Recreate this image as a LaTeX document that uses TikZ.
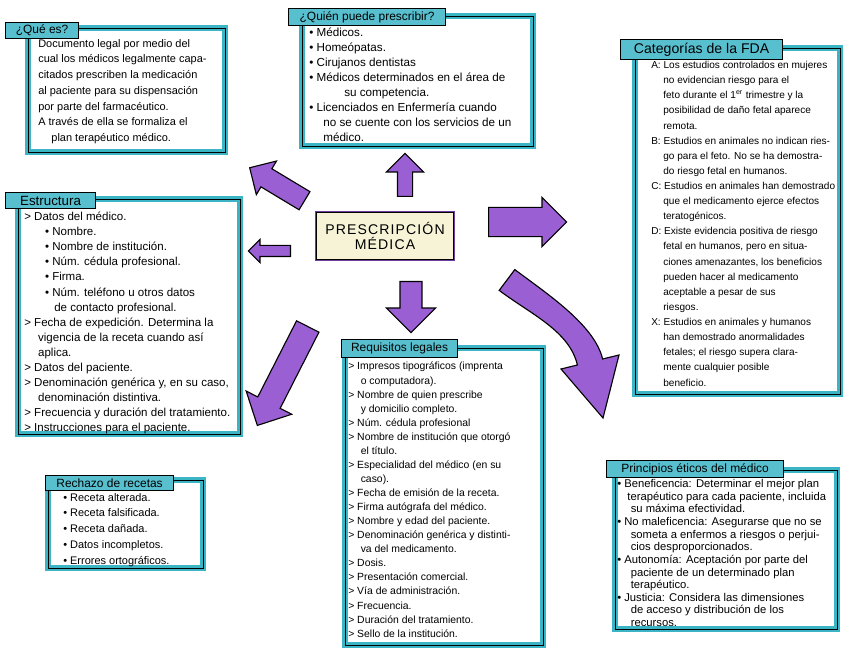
\documentclass[tikz,border=0pt]{standalone}
\usepackage{fontspec}
\setmainfont{Liberation Sans}
\usetikzlibrary{positioning, fit, shapes.arrows}

\definecolor{turquesa}{HTML}{3BB4C6}
\definecolor{violeta}{HTML}{9A5FD2}
\definecolor{violetaosc}{HTML}{6E3FA0}
\definecolor{crema}{HTML}{F6F3D6}

\newcommand{\sangria}{\hspace*{1.2em}}

\begin{document}
\begin{tikzpicture}[
    x=0.025cm, y=-0.025cm,
    marco/.style={
        rectangle,
        draw=black,
        line width=0.7pt,
        inner sep=0pt,
        preaction={draw=turquesa, line width=1.3mm}
    },
    titulo/.style={
        rectangle,
        draw=black,
        fill=turquesa!85,
        line width=0.8pt,
        inner sep=0pt,
        anchor=north west,
        font=\fontsize{8.5}{9}\selectfont
    },
    texto/.style={
        align=left,
        inner sep=0pt,
        anchor=north west
    },
    central/.style={
        rectangle,
        draw=black,
        fill=crema,
        line width=0.7pt,
        preaction={draw=violetaosc, line width=1.1mm},
        minimum width=34mm,
        minimum height=11.5mm,
        align=center,
        font=\fontsize{10}{11}\selectfont\addfontfeature{LetterSpace=8}
    },
    flecha/.style={
        single arrow,
        draw=black,
        fill=violeta,
        line width=0.8pt,
        inner xsep=0pt,
        text height=0pt, text depth=0pt,
        anchor=tail
    }
]
\useasboundingbox (0,0) rectangle (848,655);

\node[marco, fit={(28,28) (225,152)}] (quees) {};
\node[marco, fit={(302,16) (533,146)}] (quien) {};
\node[marco, fit={(635,48) (840,394)}] (fda) {};
\node[marco, fit={(18,199) (240,434)}] (estruc) {};
\node[marco, fit={(345,348) (543,645)}] (requis) {};
\node[marco, fit={(48,480) (203,568)}] (rechazo) {};
\node[marco, fit={(615,470) (837,629)}] (etica) {};

\node[titulo, minimum width=18.25mm, minimum height=4mm] (quees-tit) at (5,22) {¿Qué es?};
\node[titulo, minimum width=39.25mm, minimum height=4.25mm] (quien-tit) at (288,8) {¿Quién puede prescribir?};
\node[titulo, minimum width=40.5mm, minimum height=5mm, font=\fontsize{10}{11}\selectfont] (fda-tit) at (620,39) {Categorías de la FDA};
\node[titulo, minimum width=22.5mm, minimum height=4mm, font=\fontsize{9.5}{10}\selectfont] (estruc-tit) at (5,192) {Estructura};
\node[titulo, minimum width=29mm, minimum height=4.5mm] (requis-tit) at (341,339) {Requisitos legales};
\node[titulo, minimum width=32mm, minimum height=3.75mm] (rechazo-tit) at (45,475) {Rechazo de recetas};
\node[titulo, minimum width=44.25mm, minimum height=4.25mm] (etica-tit) at (606,460) {Principios éticos del médico};

\node[texto, font=\fontsize{7.8}{11.2}\selectfont] (quees-txt) at (38,39) {Documento legal por medio del\\
cual los médicos legalmente capa-\\
citados prescriben la medicación\\
al paciente para su dispensación\\
por parte del farmacéutico.\\
A través de ella se formaliza el\\
\sangria plan terapéutico médico.};

\node[texto, font=\fontsize{8.3}{10.6}\selectfont] (quien-txt) at (309,28) {• Médicos.\\
• Homeópatas.\\
• Cirujanos dentistas\\
• Médicos determinados en el área de\\
\hspace*{3em}su competencia.\\
• Licenciados en Enfermería cuando\\
\sangria no se cuente con los servicios de un\\
\sangria médico.};

\node[texto, font=\fontsize{7.15}{10.75}\selectfont] (fda-txt) at (651,61) {A: Los estudios controlados en mujeres\\
\sangria no evidencian riesgo para el\\
\sangria feto durante el 1\textsuperscript{er} trimestre y la\\
\sangria posibilidad de daño fetal aparece\\
\sangria remota.\\
B: Estudios en animales no indican ries-\\
\sangria go para el feto. No se ha demostra-\\
\sangria do riesgo fetal en humanos.\\
C: Estudios en animales han demostrado\\
\sangria que el medicamento ejerce efectos\\
\sangria teratogénicos.\\
D: Existe evidencia positiva de riesgo\\
\sangria fetal en humanos, pero en situa-\\
\sangria ciones amenazantes, los beneficios\\
\sangria pueden hacer al medicamento\\
\sangria aceptable a pesar de sus\\
\sangria riesgos.\\
X: Estudios en animales y humanos\\
\sangria han demostrado anormalidades\\
\sangria fetales; el riesgo supera clara-\\
\sangria mente cualquier posible\\
\sangria beneficio.};

\node[texto, font=\fontsize{8.2}{10.7}\selectfont] (estruc-txt) at (24,212) {> Datos del médico.\\
\hspace*{1.8em}• Nombre.\\
\hspace*{1.8em}• Nombre de institución.\\
\hspace*{1.8em}• Núm. cédula profesional.\\
\hspace*{1.8em}• Firma.\\
\hspace*{1.8em}• Núm. teléfono u otros datos\\
\hspace*{2.6em}de contacto profesional.\\
> Fecha de expedición. Determina la\\
\sangria vigencia de la receta cuando así\\
\sangria aplica.\\
> Datos del paciente.\\
> Denominación genérica y, en su caso,\\
\sangria denominación distintiva.\\
> Frecuencia y duración del tratamiento.\\
> Instrucciones para el paciente.};

\node[texto, font=\fontsize{7.4}{10}\selectfont] (requis-txt) at (348,362) {> Impresos tipográficos (imprenta\\
\sangria o computadora).\\
> Nombre de quien prescribe\\
\sangria y domicilio completo.\\
> Núm. cédula profesional\\
> Nombre de institución que otorgó\\
\sangria el título.\\
> Especialidad del médico (en su\\
\sangria caso).\\
> Fecha de emisión de la receta.\\
> Firma autógrafa del médico.\\
> Nombre y edad del paciente.\\
> Denominación genérica y distinti-\\
\sangria va del medicamento.\\
> Dosis.\\
> Presentación comercial.\\
> Vía de administración.\\
> Frecuencia.\\
> Duración del tratamiento.\\
> Sello de la institución.};

\node[texto, font=\fontsize{7.8}{11.2}\selectfont] (rechazo-txt) at (63,493) {• Receta alterada.\\
• Receta falsificada.\\
• Receta dañada.\\
• Datos incompletos.\\
• Errores ortográficos.};

\node[texto, font=\fontsize{8}{9}\selectfont] (etica-txt) at (617,479) {• Beneficencia: Determinar el mejor plan\\
\hspace*{0.9em}terapéutico para cada paciente, incluida\\
\sangria su máxima efectividad.\\
• No maleficencia: Asegurarse que no se\\
\sangria someta a enfermos a riesgos o perjui-\\
\sangria cios desproporcionados.\\
• Autonomía: Aceptación por parte del\\
\sangria paciente de un determinado plan\\
\sangria terapéutico.\\
• Justicia: Considera las dimensiones\\
\sangria de acceso y distribución de los\\
\sangria recursos.};

\node[central] (centro) at (385,236) {PRESCRIPCIÓN\\MÉDICA};

\node[flecha, rotate=149, inner ysep=2.5mm, single arrow head extend=2.25mm, minimum height=16mm] (f-quees) at (305,201) {};
\node[flecha, rotate=90, inner ysep=1.75mm, single arrow head extend=2.75mm, minimum height=10.75mm] (f-quien) at (405,197) {};
\node[flecha, rotate=180, inner ysep=1.25mm, single arrow head extend=1.5mm, minimum height=10.5mm] (f-estruc) at (291,251) {};
\node[flecha, rotate=0, inner ysep=3.5mm, single arrow head extend=2.5mm, minimum height=19.5mm] (f-fda) at (488,222) {};
\node[flecha, rotate=-90, inner ysep=2.6mm, single arrow head extend=3.4mm, minimum height=12.75mm] (f-requis) at (411,281) {};
\node[flecha, rotate=243, inner ysep=3mm, single arrow head extend=3.25mm, minimum height=27.75mm] (f-rechazo) at (308,326) {};

\filldraw[fill=violeta, draw=black, line width=0.8pt]
(514.8,269.6) .. controls (546.8,293.6) and (594.6,325) .. (602.6,359)
-- (619,355) -- (603,418) -- (561,369) -- (577.4,365)
.. controls (569.4,331) and (531.2,314.4) .. (499.2,290.4) -- cycle;

\end{tikzpicture}
\end{document}
